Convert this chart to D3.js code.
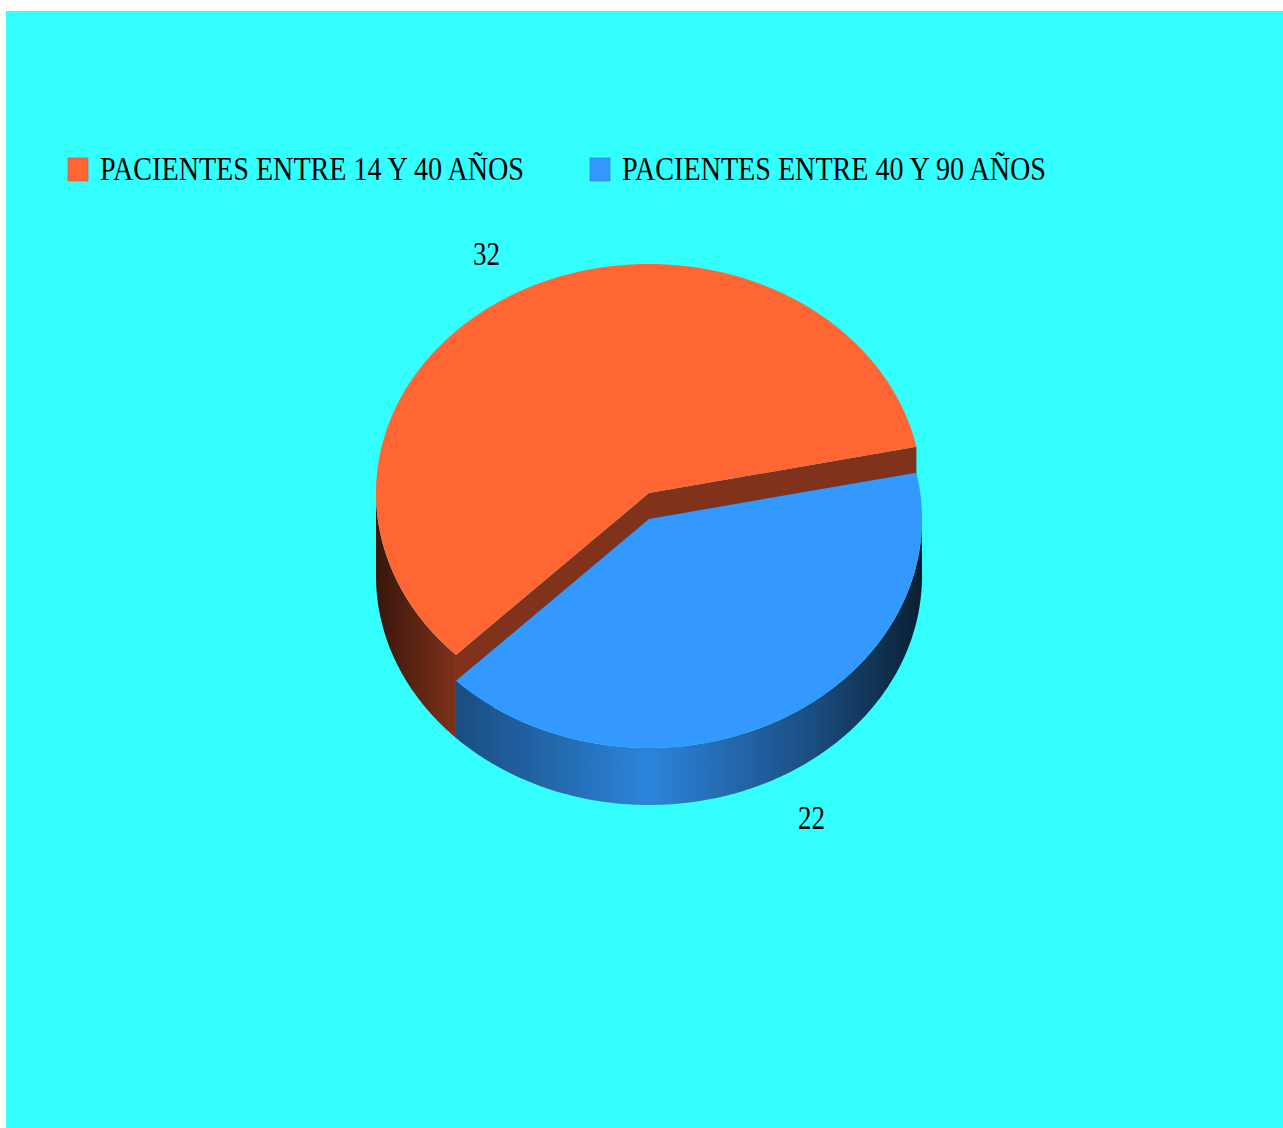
<!DOCTYPE html>
<html>
<head>
<meta charset="utf-8">
<script src="https://cdn.jsdelivr.net/npm/d3@7"></script>
<style>
  html, body { margin: 0; padding: 0; background: #ffffff; }
  svg { display: block; }
</style>
</head>
<body>
<svg id="chart" width="1283" height="1128"></svg>
<script>
// ---- data ----
const categories = ["PACIENTES ENTRE 14 Y 40 AÑOS", "PACIENTES ENTRE 40 Y 90 AÑOS"];
const values = [32, 22];
const colors = ["#FF6633", "#3399FF"];

// ---- layout ----
const W = 1283, H = 1128;
const cx = 649, cy = 576;      // centre of the base ellipse
const rx = 273, ry = 229;
const maxDepth = 83;           // height of the tallest slice

const svg = d3.select("#chart");
svg.append("rect").attr("x", 6).attr("y", 11).attr("width", W - 6).attr("height", H - 11).attr("fill", "#33FFFF");

const defs = svg.append("defs");
const depth = d3.scaleLinear().domain([0, d3.max(values)]).range([0, maxDepth]);

const pie = d3.pie().sort(null).value(d => d.value)
  .startAngle(Math.PI * 1.25).endAngle(Math.PI * 1.25 + 2 * Math.PI);
const data = categories.map((c, i) => ({ name: c, value: values[i], color: colors[i] }));
const arcs = pie(data);

function pt(a, h, k) { k = k || 1; return [cx + rx * k * Math.sin(a), cy - ry * k * Math.cos(a) - h]; }
function arcPts(a0, a1, h) {
  const n = Math.max(2, Math.ceil(Math.abs(a1 - a0) / 0.01));
  return d3.range(n + 1).map(i => pt(a0 + (a1 - a0) * i / n, h));
}
const line = d3.line();
function shade(c, f) { const r = d3.rgb(c); return d3.rgb(r.r * f, r.g * f, r.b * f).formatHex(); }

// gradients for cylindrical side walls
arcs.forEach((d, i) => {
  const g = defs.append("linearGradient").attr("id", "side" + i)
    .attr("gradientUnits", "userSpaceOnUse")
    .attr("x1", cx - rx).attr("x2", cx + rx).attr("y1", 0).attr("y2", 0);
  [[0, 0.22], [0.15, 0.5], [0.5, 0.86], [0.8, 0.5], [1, 0.2]].forEach(s =>
    g.append("stop").attr("offset", s[0]).attr("stop-color", shade(d.data.color, s[1])));
});

// front ranges (facing the viewer): d3 angle in [pi/2, 3pi/2] + 2k*pi
function frontRanges(a0, a1) {
  const out = [];
  for (let k = -1; k <= 2; k++) {
    const lo = Math.PI / 2 + 2 * Math.PI * k, hi = 3 * Math.PI / 2 + 2 * Math.PI * k;
    const s = Math.max(a0, lo), e = Math.min(a1, hi);
    if (e > s) out.push([s, e]);
  }
  return out;
}

arcs.forEach((d, i) => {
  const h = depth(d.data.value);
  const g = svg.append("g");
  // radial faces (drawn first so walls/top cover back-facing ones)
  [d.startAngle, d.endAngle].forEach(a => {
    const p = [[cx, cy - h], pt(a, h), pt(a, 0), [cx, cy]];
    g.append("path").attr("d", line(p) + "Z").attr("fill", shade(d.data.color, 0.5));
  });
  // outer walls
  frontRanges(d.startAngle, d.endAngle).forEach(r => {
    const top = arcPts(r[0], r[1], h);
    const bot = arcPts(r[1], r[0], 0);
    g.append("path").attr("d", line(top.concat(bot)) + "Z").attr("fill", "url(#side" + i + ")");
  });
  // top face
  const topPts = [[cx, cy - h]].concat(arcPts(d.startAngle, d.endAngle, h));
  g.append("path").attr("d", line(topPts) + "Z").attr("fill", d.data.color);
});

// value labels
const labCy = 535, labKx = 1.255, labKy = 1.40;
arcs.forEach(d => {
  const a = (d.startAngle + d.endAngle) / 2;
  const x = cx + rx * labKx * Math.sin(a);
  const y = labCy - ry * labKy * Math.cos(a);
  svg.append("text").attr("x", x - 13.5).attr("y", y).attr("dy", "0.36em")
    .attr("textLength", 27).attr("lengthAdjust", "spacingAndGlyphs")
    .style("font-family", "'Liberation Serif', 'Times New Roman', serif")
    .style("font-size", "33px").attr("fill", "#000").text(d.data.value);
});

// legend
const legX = [68, 590];
data.forEach((d, i) => {
  const g = svg.append("g").attr("transform", `translate(${legX[i]},0)`);
  g.append("rect").attr("x", 0).attr("y", 158).attr("width", 20).attr("height", 23)
    .attr("fill", d.color).attr("stroke", shade(d.color, 0.8)).attr("stroke-width", 0.6);
  g.append("text").attr("x", 32).attr("y", 180)
    .attr("textLength", 424).attr("lengthAdjust", "spacingAndGlyphs")
    .style("font-family", "'Liberation Serif', 'Times New Roman', serif")
    .style("font-size", "33px").attr("fill", "#000").text(d.name);
});
</script>
</body>
</html>
